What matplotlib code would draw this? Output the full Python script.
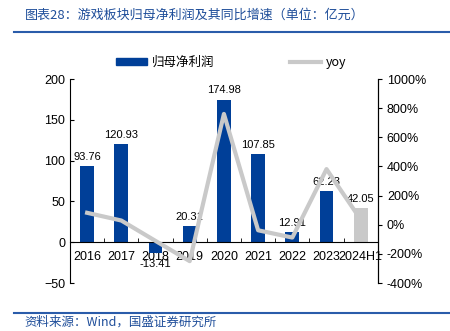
import numpy as np
import matplotlib.pyplot as plt
from matplotlib.lines import Line2D
from matplotlib.patches import Patch

plt.rcParams['font.family'] = ['Liberation Sans', 'Noto Sans CJK SC', 'DejaVu Sans']

years = ['2016', '2017', '2018', '2019', '2020', '2021', '2022', '2023', '2024H1']
profit = [93.76, 120.93, -13.41, 20.31, 174.98, 107.85, 12.91, 62.23, 42.05]
yoy = [82, 29, -111, -250, 761, -38, -88, 382, 35]

blue = '#003F98'
grey = '#C9C9C9'
cjk = ['Noto Sans CJK SC', 'DejaVu Sans']

fig = plt.figure(figsize=(4.5, 3.31), dpi=100)
ax = fig.add_axes([0.1556, 0.145, 0.684, 0.616])
ax2 = ax.twinx()

x = np.arange(len(years))
colors = [blue] * (len(years) - 1) + [grey]
ax.bar(x, profit, width=0.4, color=colors, zorder=2)
for xi, v in zip(x, profit):
    if v >= 0:
        ax.text(xi, v + 5, f'{v:.2f}', ha='center', va='bottom', fontsize=8)
    else:
        ax.text(xi, v - 7, f'{v:.2f}', ha='center', va='top', fontsize=8)

ax2.plot(x, yoy, color=grey, lw=3, zorder=3)
ax.set_zorder(ax2.get_zorder() - 1)
ax.patch.set_visible(False)

ax.set_xlim(-0.5, len(years) - 0.5)
ax.set_ylim(-50, 200)
ax.set_yticks(range(-50, 201, 50))
ax2.set_ylim(-400, 1000)
ax2.set_yticks(range(-400, 1001, 200))
ax2.set_yticklabels([f'{t}%' for t in range(-400, 1001, 200)])

ax.spines['top'].set_visible(False)
ax2.spines['top'].set_visible(False)
ax.spines['bottom'].set_position(('data', 0))
ax2.spines['bottom'].set_visible(False)
ax2.spines['left'].set_visible(False)

ax.set_xticks(x)
ax.set_xticklabels(years)
ax.set_xticks(np.arange(-0.5, len(years), 1), minor=True)
ax.tick_params(axis='x', which='major', length=0, labelsize=9, pad=6)
ax.tick_params(axis='x', which='minor', direction='in', length=3)
ax.tick_params(axis='y', direction='in', length=3, labelsize=9)
ax2.tick_params(axis='y', direction='out', length=3, labelsize=9)

handles = [Patch(color=blue), Line2D([], [], color=grey, lw=3)]
fig.legend(handles, ['归母净利润', 'yoy'], loc='center', bbox_to_anchor=(0.514, 0.812),
           ncol=2, frameon=False, prop={'family': cjk, 'size': 9},
           handlelength=2.5, handleheight=0.5, handletextpad=0.4, columnspacing=6)

fig.text(0.055, 0.953, '图表28：游戏板块归母净利润及其同比增速（单位：亿元）',
         family=cjk, fontsize=9.4, color='#1F4E9A', style='italic', va='center')
fig.add_artist(Line2D([0.031, 1.0], [0.903, 0.903], color='#2A5CAA', lw=1.5))
fig.add_artist(Line2D([0.031, 1.0], [0.054, 0.054], color='#2A5CAA', lw=1.5))
fig.text(0.055, 0.027, '资料来源：Wind，国盛证券研究所',
         family=cjk, fontsize=9, color='#1F4E9A', style='italic', va='center')

fig.savefig('out.png', dpi=100)
